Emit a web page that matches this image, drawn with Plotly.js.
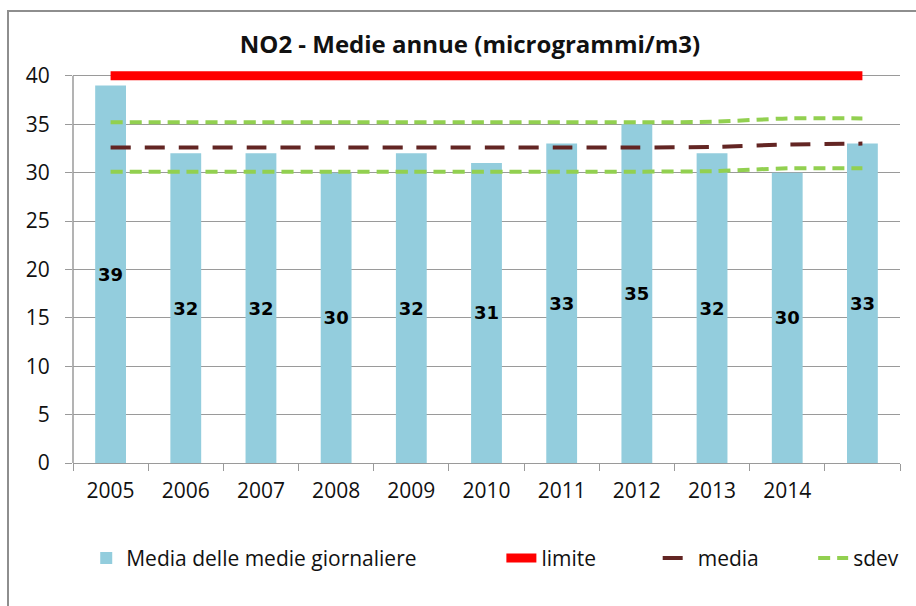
<!DOCTYPE html>
<html>
<head>
<meta charset="utf-8">
<script src="https://cdn.plot.ly/plotly-3.0.1.min.js"></script>
<style>
  html, body { margin:0; padding:0; background:#fff; }
  #wrap { position:relative; width:916px; height:606px; overflow:hidden; }
  #frame { position:absolute; left:7px; top:10px; width:2000px; height:2000px;
           border-left:2px solid #8e8e8e; border-top:2px solid #8e8e8e; pointer-events:none; }
  #chart { position:absolute; left:0; top:0; width:916px; height:606px; }
</style>
</head>
<body>
<div id="wrap">
  <div id="chart"></div>
  <div id="frame"></div>
</div>
<script>
// ---- data ----
const years = [2005, 2006, 2007, 2008, 2009, 2010, 2011, 2012, 2013, 2014, 2015];
const yearLabels = ['2005', '2006', '2007', '2008', '2009', '2010', '2011', '2012', '2013', '2014', ''];
const mediaGiornaliere = [39, 32, 32, 30, 32, 31, 33, 35, 32, 30, 33];
const limite = [40, 40, 40, 40, 40, 40, 40, 40, 40, 40, 40];
const media = [32.6, 32.6, 32.6, 32.6, 32.6, 32.6, 32.6, 32.6, 32.65, 32.9, 33.0];
const sdevHigh = [35.2, 35.2, 35.2, 35.2, 35.2, 35.2, 35.2, 35.2, 35.25, 35.6, 35.6];
const sdevLow = [30.1, 30.1, 30.1, 30.1, 30.1, 30.1, 30.1, 30.1, 30.15, 30.45, 30.45];
const yTicks = [0, 5, 10, 15, 20, 25, 30, 35, 40];

const FONT = 'Open Sans, Noto Sans, sans-serif';
const GRID = '#9a9a9a';

const traces = [
  {
    type: 'bar', name: 'Media delle medie giornaliere',
    x: years, y: mediaGiornaliere, width: 0.41,
    marker: { color: '#93CDDD', line: { width: 0 } },
    text: mediaGiornaliere.map(String),
    textposition: 'inside', insidetextanchor: 'middle', textangle: 0,
    textfont: { family: 'DejaVu Sans, sans-serif', size: 18, color: '#000', weight: 'bold' },
    hoverinfo: 'skip', legend: 'legend', showlegend: true
  },
  {
    type: 'scatter', mode: 'lines', name: 'limite',
    x: years, y: limite,
    line: { color: '#FF0000', width: 9 },
    hoverinfo: 'skip', legend: 'legend2'
  },
  {
    type: 'scatter', mode: 'lines', name: 'media',
    x: years, y: media,
    line: { color: '#632523', width: 4, dash: '20px,14px', shape: 'spline', smoothing: 0.6 },
    hoverinfo: 'skip', legend: 'legend3'
  },
  {
    type: 'scatter', mode: 'lines', name: 'sdev',
    x: years, y: sdevHigh,
    line: { color: '#92D050', width: 4, dash: '12px,7px', shape: 'spline', smoothing: 0.6 },
    hoverinfo: 'skip', legend: 'legend4', legendgroup: 'sdev'
  },
  {
    type: 'scatter', mode: 'lines', name: 'sdev',
    x: years, y: sdevLow, showlegend: false,
    line: { color: '#92D050', width: 4, dash: '12px,7px', shape: 'spline', smoothing: 0.6 },
    hoverinfo: 'skip', legend: 'legend4', legendgroup: 'sdev'
  }
];

const legendBase = {
  orientation: 'h', y: -0.243, yanchor: 'middle', xanchor: 'left',
  bgcolor: 'rgba(0,0,0,0)', borderwidth: 0,
  font: { family: FONT, size: 21, color: '#111' }
};

const layout = {
  width: 916, height: 606,
  showlegend: true,
  paper_bgcolor: 'rgba(0,0,0,0)', plot_bgcolor: 'rgba(0,0,0,0)',
  margin: { l: 73, r: 14, t: 71, b: 143 },
  font: { family: FONT, size: 20, color: '#111' },
  title: {
    text: '<b>NO2 - Medie annue (microgrammi/m3)</b>',
    font: { family: FONT, size: 24, color: '#111' },
    xref: 'paper', x: 0.48, xanchor: 'center',
    yref: 'container', y: 0.927, yanchor: 'middle'
  },
  xaxis: {
    type: 'linear', range: [2004.5, 2015.5], fixedrange: true,
    tickmode: 'array', tickvals: years, ticktext: yearLabels,
    ticks: '', showgrid: false, zeroline: false,
    showline: true, linecolor: GRID, linewidth: 1,
    tickfont: { family: FONT, size: 21, color: '#111' },
    ticklabelstandoff: 9,
    minor: { tickmode: 'linear', tick0: 2004.5, dtick: 1, ticks: 'outside', ticklen: 7, tickcolor: GRID, tickwidth: 1, showgrid: false }
  },
  yaxis: {
    range: [0, 40.5], fixedrange: true,
    tickmode: 'array', tickvals: yTicks,
    ticks: 'outside', ticklen: 7, tickcolor: GRID, tickwidth: 1,
    showgrid: true, gridcolor: GRID, gridwidth: 1,
    zeroline: false, showline: false,
    tickfont: { family: FONT, size: 21, color: '#111' },
    ticklabelstandoff: 11
  },
  shapes: [
    { type: 'line', xref: 'paper', x0: 0, x1: 0, yref: 'y', y0: 0, y1: 40, line: { color: GRID, width: 1.5 }, layer: 'below' }
  ],
  bargap: 0.59,
  uniformtext: { mode: 'show', minsize: 18 },
  legend: Object.assign({}, legendBase, { x: 0.016 }),
  legend2: Object.assign({}, legendBase, { x: 0.518 }),
  legend3: Object.assign({}, legendBase, { x: 0.707 }),
  legend4: Object.assign({}, legendBase, { x: 0.895 }),
  hovermode: false
};

Plotly.newPlot('chart', traces, layout, { displayModeBar: false, staticPlot: true });
</script>
</body>
</html>
